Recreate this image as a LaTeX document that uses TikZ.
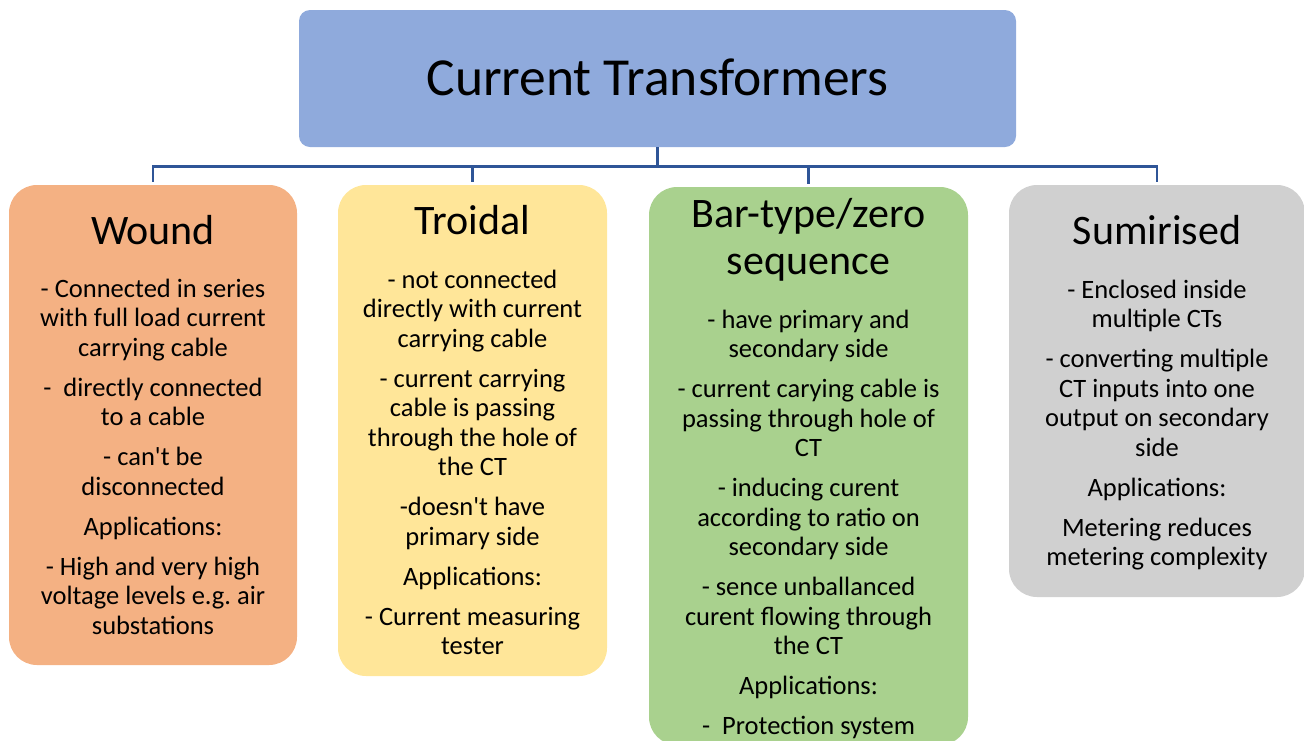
\documentclass[tikz,border=0pt]{standalone}
\usepackage{fontspec}
\setmainfont{Carlito}
\frenchspacing
\definecolor{headfill}{HTML}{8FAADC}
\definecolor{woundfill}{HTML}{F4B183}
\definecolor{troidfill}{HTML}{FFE699}
\definecolor{barfill}{HTML}{A9D18E}
\definecolor{sumfill}{HTML}{D0D0D0}
\definecolor{linkblue}{HTML}{2F5597}
\newcommand\bodysize{\fontsize{26.5}{29.5}\selectfont}
\newcommand\titlesize{\fontsize{42}{47}\selectfont}
\newcommand\pgap{\\[10.5pt]}
\newcommand\apos{\textquotesingle}
\tikzset{
  head/.style={rounded corners=11pt, fill=headfill, inner sep=0pt,
    minimum width=717pt, minimum height=137pt},
  headtext/.style={inner sep=0pt, font=\fontsize{53.5}{60}\selectfont},
  panel/.style={rounded corners=28pt, inner sep=0pt},
  paneltitle/.style={anchor=north, inner sep=0pt, align=center, font=\titlesize},
  panelbody/.style={anchor=north, inner sep=0pt, align=center, font=\bodysize},
  conn/.style={draw=linkblue, line width=2.6pt}
}
\begin{document}
\begin{tikzpicture}[x=1pt,y=-1pt]
\useasboundingbox (0,0) rectangle (1304,740);

% heading
\node[head] (top) at (657.5,78.5) {};
\node[headtext] (topT) at (657.5,77) {Current Transformers};

% the four category panels
\node[panel, fill=woundfill, minimum width=288pt, minimum height=480pt] (wound) at (153,425) {};
\node[panel, fill=troidfill, minimum width=269pt, minimum height=491pt] (troidal) at (472.5,430.5) {};
\node[panel, fill=barfill, minimum width=319pt, minimum height=558pt] (bar) at (808.5,466) {};
\node[panel, fill=sumfill, minimum width=296pt, minimum height=412pt] (sumi) at (1157,391) {};

% connectors from the heading to every panel
\foreach \c in {wound,troidal,bar,sumi}
  \draw[conn] (top.south) -- ++(0,19) -| ([yshift=3pt]\c.north);

% Wound
\node[paneltitle] (woundT) at (153,215.5) {Wound};
\node[panelbody] (woundB) at (153,278.5) {%
- Connected in series\\ with full load current\\ carrying cable\pgap
-\ \ directly connected\\ to a cable\pgap
- can\apos t be\\ disconnected\pgap
Applications:\pgap
- High and very high\\ voltage levels e.g. air\\ substations};

% Troidal
\node[paneltitle] (troidalT) at (472.5,205.5) {Troidal};
\node[panelbody] (troidalB) at (472.5,269.5) {%
- not connected\\ directly with current\\ carrying cable\pgap
- current carrying\\ cable is passing\\ through the hole of\\ the CT\pgap
-doesn\apos t have\\ primary side\pgap
Applications:\pgap
- Current measuring\\ tester};

% Bar-type / zero sequence
\node[paneltitle] (barT) at (808.5,198.5) {Bar-type/zero\\ sequence};
\node[panelbody] (barB) at (808.5,309.5) {%
- have primary and\\ secondary side\pgap
- current carying cable is\\ passing through hole of\\ CT\pgap
- inducing curent\\ according to ratio on\\ secondary side\pgap
- sence unballanced\\ curent flowing through\\ the CT\pgap
Applications:\pgap
-\ \ Protection system};

% Sumirised
\node[paneltitle] (sumiT) at (1157,215.5) {Sumirised};
\node[panelbody] (sumiB) at (1157,279.5) {%
- Enclosed inside\\ multiple CTs\pgap
- converting multiple\\ CT inputs into one\\ output on secondary\\ side\pgap
Applications:\pgap
Metering reduces\\ metering complexity};
\end{tikzpicture}
\end{document}
